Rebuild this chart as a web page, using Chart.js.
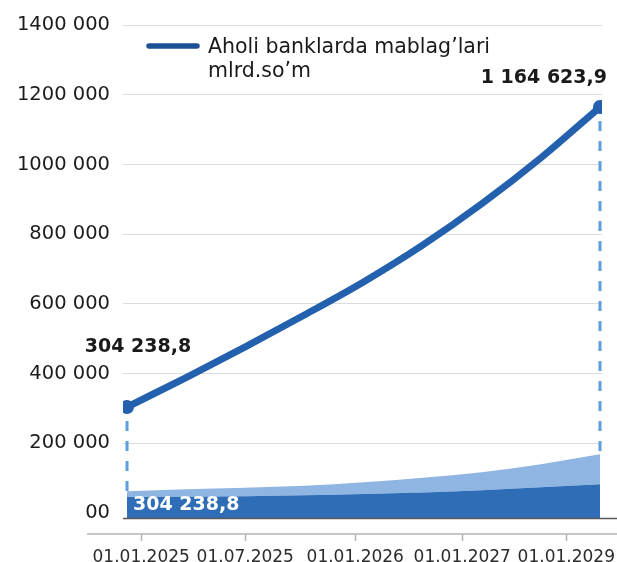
<!DOCTYPE html>
<html>
<head>
<meta charset="utf-8">
<script src="https://cdn.jsdelivr.net/npm/chart.js@4"></script>
<style>
  html, body { margin: 0; padding: 0; background: #fff; }
  canvas { display: block; }
</style>
</head>
<body>
<canvas id="chart" width="617" height="562"></canvas>
<script>
  // Aholi banklarda mablag'lari, mlrd.so'm — 2025..2029 prognoz
  const FONT = "'DejaVu Sans', sans-serif";

  const xLabels = ["01.01.2025", "01.07.2025", "01.01.2026", "01.01.2027", "01.01.2029"];
  const xTickAt = [0.24, 2, 3.86, 5.67, 7.43];          // label slots on the step axis
  const yTickValues = [0, 200000, 400000, 600000, 800000, 1000000, 1200000, 1400000];
  const yTickLabels = ["00", "200 000", "400 000", "600 000", "800 000", "1000 000", "1200 000", "1400 000"];

  const seriesName = ["Aholi banklarda mablag\u2019lari", "mlrd.so\u2019m"];
  const deposits = [304238.8, 388900, 476900, 568300, 663100, 768600, 887200, 1018800, 1164623.9];
  const bandLower = [46000, 47000, 48500, 51000, 54500, 59000, 65500, 74000, 83000];
  const bandUpper = [63000, 68500, 73000, 78500, 88500, 101500, 117000, 140000, 168500];

  const LINE = "#2360ad";
  const pts = (arr) => arr.map((v, i) => ({ x: i, y: v }));
  const fmt = (n) => {
    const [i, d] = n.toFixed(1).split(".");
    return i.replace(/\B(?=(\d{3})+(?!\d))/g, " ") + "," + d;
  };

  // dashed drop lines, axis lines, value labels and legend
  const decor = {
    id: "decor",
    beforeDatasetsDraw(chart) {
      const { ctx, scales: { x, y } } = chart;
      const last = deposits.length - 1;
      ctx.save();
      ctx.strokeStyle = "#5d9edb";
      ctx.lineWidth = 3;
      ctx.setLineDash([10, 10]);
      [0, last].forEach((i) => {
        const px = x.getPixelForValue(i);
        ctx.beginPath();
        ctx.moveTo(px, y.getPixelForValue(deposits[i]) + 14);
        ctx.lineTo(px, y.getPixelForValue(bandUpper[i]));
        ctx.stroke();
      });
      ctx.restore();
    },
    afterDatasetsDraw(chart) {
      const { ctx, chartArea: area, scales: { x, y } } = chart;
      const last = deposits.length - 1;
      ctx.save();

      // base line under the areas
      ctx.strokeStyle = "#5a5a5a";
      ctx.lineWidth = 1.5;
      ctx.beginPath();
      ctx.moveTo(area.left, area.bottom + 0.5);
      ctx.lineTo(chart.width, area.bottom + 0.5);
      ctx.stroke();

      // date axis with small ticks
      const axisY = area.bottom + 16;
      ctx.strokeStyle = "#b4b4b4";
      ctx.beginPath();
      ctx.moveTo(87, axisY);
      ctx.lineTo(chart.width, axisY);
      xTickAt.forEach((v) => {
        const px = Math.round(x.getPixelForValue(v)) + 0.5;
        ctx.moveTo(px, axisY);
        ctx.lineTo(px, axisY + 7);
      });
      ctx.stroke();

      // value labels
      ctx.font = "bold 19px " + FONT;
      ctx.fillStyle = "#1a1a1a";
      ctx.textBaseline = "alphabetic";
      const x0 = x.getPixelForValue(0), y0 = y.getPixelForValue(deposits[0]);
      const x1 = x.getPixelForValue(last), y1 = y.getPixelForValue(deposits[last]);
      ctx.textAlign = "center";
      ctx.fillText(fmt(deposits[0]), x0 + 11, y0 - 55);
      ctx.textAlign = "right";
      ctx.fillText(fmt(deposits[last]), x1 + 7, y1 - 24);
      ctx.textAlign = "left";
      ctx.fillStyle = "#fff";
      ctx.fillText(fmt(deposits[0]), x0 + 6, area.bottom - 8);

      // legend
      ctx.strokeStyle = "#1d5196";
      ctx.lineWidth = 5.5;
      ctx.lineCap = "round";
      ctx.beginPath();
      ctx.moveTo(149, 46);
      ctx.lineTo(197, 46);
      ctx.stroke();
      ctx.font = "20.5px " + FONT;
      ctx.fillStyle = "#1a1a1a";
      ctx.fillText(seriesName[0], 208, 53);
      ctx.fillText(seriesName[1], 208, 77);
      ctx.restore();
    }
  };

  new Chart(document.getElementById("chart"), {
    type: "line",
    data: {
      datasets: [
        {
          label: seriesName.join(" "),
          data: pts(deposits),
          borderColor: LINE,
          borderWidth: 7,
          borderCapStyle: "round",
          pointRadius: deposits.map((_, i) => (i === 0 || i === deposits.length - 1 ? 7 : 0)),
          pointBackgroundColor: LINE,
          pointBorderWidth: 0,
          cubicInterpolationMode: "monotone",
          fill: false,
        },
        {
          data: pts(bandLower),
          backgroundColor: "#2f6db7",
          borderWidth: 0,
          pointRadius: 0,
          cubicInterpolationMode: "monotone",
          fill: "start",
        },
        {
          data: pts(bandUpper),
          backgroundColor: "#8fb5e3",
          borderWidth: 0,
          pointRadius: 0,
          cubicInterpolationMode: "monotone",
          fill: "-1",
        },
      ],
    },
    options: {
      responsive: false,
      animation: false,
      devicePixelRatio: 1,
      layout: { padding: { top: 25, right: 15, left: 0, bottom: 0 } },
      plugins: { legend: { display: false }, tooltip: { enabled: false } },
      scales: {
        x: {
          type: "linear",
          min: -0.068,
          max: 8.034,
          afterBuildTicks: (s) => { s.ticks = xTickAt.map((v) => ({ value: v })); },
          afterFit: (s) => { s.height = 44; s.paddingLeft = 0; s.paddingRight = 0; },
          ticks: {
            callback: (v, i) => xLabels[i],
            autoSkip: false,
            maxRotation: 0,
            font: { family: FONT, size: 17 },
            color: "#2b2b2b",
            padding: 29,
          },
          grid: { display: false, drawTicks: false },
          border: { display: false },
        },
        y: {
          min: -14000,
          max: 1400000,
          afterBuildTicks: (s) => { s.ticks = yTickValues.map((v) => ({ value: v })); },
          afterFit: (s) => { s.width = 123; },
          ticks: {
            callback: (v, i) => yTickLabels[i],
            font: { family: FONT, size: 19.5 },
            color: "#1c1c1c",
            padding: 13,
          },
          grid: {
            color: (c) => (c.tick && c.tick.value === 0 ? "rgba(0,0,0,0)" : "#dcdcdc"),
            lineWidth: 1,
            drawTicks: false,
          },
          border: { display: false },
        },
      },
    },
    plugins: [decor],
  });
</script>
</body>
</html>
